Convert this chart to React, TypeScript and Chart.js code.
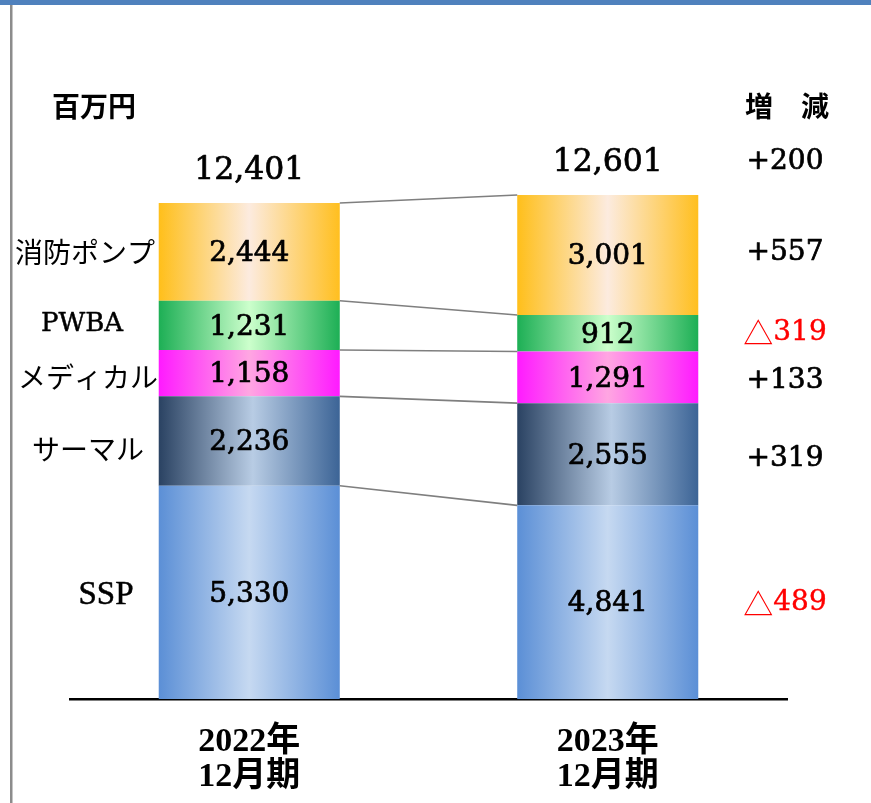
import React, { useEffect, useRef } from "react";
import { Chart, registerables } from "chart.js";

Chart.register(...registerables);

// ---- data ----
const periods = [["2022年", "12月期"], ["2023年", "12月期"]];
const segmentNames = ["SSP", "サーマル", "メディカル", "PWBA", "消防ポンプ"];
const sspValues = [5330, 4841];
const thermalValues = [2236, 2555];
const medicalValues = [1158, 1291];
const pwbaValues = [1231, 912];
const pumpValues = [2444, 3001];
const totals = [12401, 12601];
const changeLabels = ["△489", "+319", "+133", "△319", "+557"];
const totalChangeLabel = "+200";
const unitLabel = "百万円";
const changeHeader = "増　減";

// ---- styles ----
const gradientStops: [number, string][][] = [
  [[0, "#5B8FD6"], [0.5, "#C6D9F1"], [1, "#5B8FD6"]],
  [[0, "#2A4262"], [0.52, "#B8CCE4"], [1, "#3C6496"]],
  [[0, "#FF1AFF"], [0.5, "#FFA6E2"], [1, "#FF1AFF"]],
  [[0, "#1DAF55"], [0.5, "#CCFFCC"], [1, "#1DAF55"]],
  [[0, "#FFBF1A"], [0.5, "#FCEBDF"], [1, "#FFBF1F"]],
];
const BAR_FRACTION = 0.505;
const SERIF = "'DejaVu Serif', serif";
const SANS = "'Noto Sans CJK JP', sans-serif";

const fmt = (v: number) => v.toLocaleString("en-US");

const gradientFor = (dsIndex: number) => (c: any) => {
  const chart = c.chart;
  const stops = gradientStops[dsIndex];
  const xs = chart.scales?.x;
  if (!chart.chartArea || !xs || c.dataIndex === undefined) return stops[0][1];
  const cx = xs.getPixelForValue(c.dataIndex);
  const w = (xs.width / periods.length) * BAR_FRACTION;
  const g = chart.ctx.createLinearGradient(cx - w / 2, 0, cx + w / 2, 0);
  stops.forEach(([o, col]) => g.addColorStop(o, col));
  return g;
};

const frame = {
  id: "frame",
  beforeDraw(chart: any) {
    const ctx = chart.ctx;
    ctx.save();
    ctx.fillStyle = "#4F81BD";
    ctx.fillRect(0, 0, chart.width, 5);
    ctx.fillStyle = "#8C8C8C";
    ctx.fillRect(10, 5, 2.5, chart.height - 5);
    ctx.restore();
  },
};

// heavier serif text (fill + thin stroke of same colour)
const heavyText = (ctx: CanvasRenderingContext2D, s: string, x: number, y: number, color = "#000", w = 0.7) => {
  ctx.fillStyle = color;
  ctx.strokeStyle = color;
  ctx.lineWidth = w;
  ctx.fillText(s, x, y);
  ctx.strokeText(s, x, y);
};

const overlay = {
  id: "overlay",
  afterDatasetsDraw(chart: any) {
    const ctx = chart.ctx;
    const n = chart.data.datasets.length;
    const metas = Array.from({ length: n }, (_, i) => chart.getDatasetMeta(i));
    const el = (i: number, j: number) =>
      metas[i].data[j].getProps(["x", "y", "base", "width"], true);
    ctx.save();

    // connector lines between bar segment tops
    ctx.strokeStyle = "#7F7F7F";
    ctx.lineWidth = 1.6;
    for (let i = 0; i < n; i++) {
      const a = el(i, 0);
      const b = el(i, 1);
      ctx.beginPath();
      ctx.moveTo(a.x + a.width / 2, a.y);
      ctx.lineTo(b.x - b.width / 2, b.y);
      ctx.stroke();
    }

    ctx.textAlign = "center";
    ctx.textBaseline = "middle";
    ctx.lineJoin = "round";

    // values inside segments
    ctx.font = `28px ${SERIF}`;
    chart.data.datasets.forEach((ds: any, i: number) => {
      ds.data.forEach((v: number, j: number) => {
        const e = el(i, j);
        heavyText(ctx, fmt(v), e.x, (e.y + e.base) / 2 + 2);
      });
    });

    // totals above bars
    ctx.font = `31.5px ${SERIF}`;
    totals.forEach((t, j) => {
      const e = el(n - 1, j);
      heavyText(ctx, fmt(t), e.x, e.y - 32);
    });

    // left-side segment names
    const nameX = [106, 88, 88, 82, 85];
    const nameDy = [3, 8, 4, -1, 0];
    segmentNames.forEach((name, i) => {
      const e = el(i, 0);
      const y = (e.y + e.base) / 2 + nameDy[i];
      if (/^[A-Z]+$/.test(name)) {
        ctx.font = i === 0 ? `33px 'Liberation Serif', serif` : `26px ${SERIF}`;
        heavyText(ctx, name, nameX[i], y, "#000", 0.5);
      } else {
        ctx.font = `28px ${SANS}`;
        ctx.fillStyle = "#000";
        ctx.fillText(name, nameX[i], y);
      }
    });

    // change column
    const colX = 785;
    const chgDy = [1, 4, 3, -1, -2];
    changeLabels.forEach((lab, i) => {
      const e = el(i, 1);
      const y = (e.y + e.base) / 2 + chgDy[i];
      if (lab.startsWith("△")) {
        const num = lab.slice(1);
        ctx.font = `30px ${SANS}`;
        const wt = ctx.measureText("△").width;
        ctx.font = `28px ${SERIF}`;
        const wn = ctx.measureText(num).width;
        const x0 = colX - (wt + wn) / 2;
        ctx.textAlign = "left";
        ctx.font = `30px ${SANS}`;
        ctx.fillStyle = "#FF0000";
        ctx.fillText("△", x0, y);
        ctx.font = `28px ${SERIF}`;
        heavyText(ctx, num, x0 + wt, y, "#FF0000", 0.4);
        ctx.textAlign = "center";
      } else {
        ctx.font = `28px ${SERIF}`;
        heavyText(ctx, lab, colX, y);
      }
    });
    ctx.font = `28px ${SERIF}`;
    heavyText(ctx, totalChangeLabel, colX, el(n - 1, 1).y - 33);

    // headers
    ctx.fillStyle = "#000";
    ctx.font = `bold 28px ${SANS}`;
    ctx.fillText(unitLabel, 94, 106);
    ctx.fillText(changeHeader, 787, 106);

    ctx.restore();
  },
};

export default function App() {
  const ref = useRef<HTMLCanvasElement>(null);
  useEffect(() => {
    document.body.style.margin = "0";
    const seriesValues = [sspValues, thermalValues, medicalValues, pwbaValues, pumpValues];
    const chart = new Chart(ref.current!, {
      type: "bar",
      data: {
        labels: periods,
        datasets: seriesValues.map((vals, i) => ({
          label: segmentNames[i],
          data: vals,
          backgroundColor: gradientFor(i),
          borderWidth: 0,
          categoryPercentage: 1,
          barPercentage: BAR_FRACTION,
        })),
      },
      options: {
        responsive: false,
        animation: false,
        devicePixelRatio: 1,
        layout: { padding: { top: 99, left: 70, right: 84, bottom: 0 } },
        plugins: { legend: { display: false }, tooltip: { enabled: false } },
        scales: {
          x: {
            stacked: true,
            offset: true,
            grid: { display: false, drawTicks: false },
            border: { display: true, color: "#000", width: 2.5 },
            ticks: {
              color: "#000",
              padding: 25,
              font: { family: "'Liberation Serif', 'Noto Sans CJK JP', serif", size: 34, weight: "bold", lineHeight: 1.05 },
            },
            afterFit: (s: any) => {
              s.height = 104;
            },
          },
          y: { stacked: true, display: false, min: 0, max: 15000 },
        },
      },
      plugins: [frame, overlay],
    });
    return () => chart.destroy();
  }, []);
  return (
    <div style={{ position: "absolute", left: 0, top: 0, width: 871, height: 803, background: "#fff" }}>
      <canvas ref={ref} width={871} height={803} style={{ width: 871, height: 803, display: "block" }} />
    </div>
  );
}
